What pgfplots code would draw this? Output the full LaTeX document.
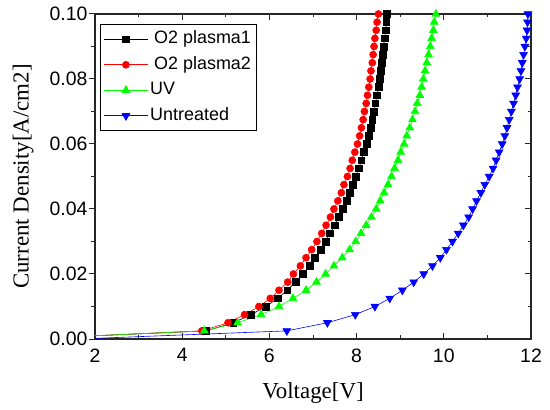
\documentclass[border=0pt]{standalone}
\usepackage{fontspec}
\setmainfont{Liberation Serif}
\newfontfamily\arial{Liberation Sans}
\usepackage{pgfplots}
\pgfplotsset{compat=1.18}

\definecolor{oRed}{HTML}{FF0000}
\definecolor{oGreen}{HTML}{00FF00}
\definecolor{oBlue}{HTML}{0000FF}

\pgfplotsset{
  frame/.style={
    at={(0,0)}, anchor=south west, scale only axis,
    width=436bp, height=325bp,
    xmin=2, xmax=12, ymin=0, ymax=0.1,
    xtick={2,4,6,8,10,12},
    ytick={0,0.02,0.04,0.06,0.08,0.1},
    minor x tick num=1, minor y tick num=1,
    major tick length=6bp, minor tick length=3.5bp,
    axis line style={line width=1.1bp, black!85},
    every tick/.style={line width=1bp, black!85},
  },
  lgimg/.style={
    legend image code/.code={
      \draw[mark repeat=2,mark phase=2] plot coordinates {(0bp,0bp) (22bp,0bp) (44bp,0bp)};
    }
  },
}

\begin{document}
\begin{tikzpicture}
\useasboundingbox (-95bp,-71bp) rectangle (455bp,339bp);

% left ticks point outwards
\begin{axis}[frame, hide x axis, ytick pos=left, tick align=outside, yticklabels={}]
\end{axis}

\begin{axis}[frame,
  tick align=inside, xtick pos=both, ytick pos=right, yticklabel pos=left,
  scaled y ticks=false,
  tick label style={font=\arial\fontsize{19.5}{20}\selectfont,
    /pgf/number format/assume math mode=true},
  y tick label style={/pgf/number format/.cd, fixed, fixed zerofill, precision=2, /tikz/.cd, xshift=-4bp},
  x tick label style={yshift=-6bp},
  xlabel={Voltage[V]},
  ylabel={Current Density[A/cm2]},
  label style={font=\fontsize{23}{24}\selectfont},
  xlabel style={at={(axis description cs:0.5,-0.166)}, anchor=center},
  ylabel style={at={(axis description cs:-0.165,0.5)}, anchor=center},
  legend style={at={(axis description cs:0.012,0.968)}, anchor=north west,
    draw=black, line width=0.8bp, fill=white,
    font=\arial\fontsize{18}{20}\selectfont,
    nodes={inner sep=2bp, text height=13bp, text depth=4bp},
    row sep=4.5bp, inner ysep=4bp, inner xsep=3bp},
  legend cell align=left,
  every axis plot/.append style={line width=0.6bp, lgimg, mark repeat=1, mark phase=2},
]
% O2 plasma1
\addplot[black, mark=square*, mark size=3.4bp] coordinates {
 (2,0.0010) (4.55,0.0025) (5.17,0.0050) (5.58,0.0075) (5.92,0.0100) (6.19,0.0125)
 (6.41,0.0150) (6.60,0.0175) (6.77,0.0200) (6.92,0.0225) (7.04,0.0250)
 (7.17,0.0275) (7.29,0.0300) (7.39,0.0325) (7.50,0.0350) (7.59,0.0375)
 (7.69,0.0400) (7.77,0.0425) (7.85,0.0450) (7.91,0.0475) (7.98,0.0500)
 (8.05,0.0525) (8.11,0.0550) (8.17,0.0575) (8.23,0.0600) (8.28,0.0625)
 (8.32,0.0650) (8.36,0.0675) (8.40,0.0700) (8.43,0.0725) (8.47,0.0750)
 (8.50,0.0775) (8.53,0.0800) (8.55,0.0825) (8.58,0.0850) (8.60,0.0875)
 (8.62,0.0900) (8.64,0.0925) (8.67,0.0950) (8.68,0.0975) (8.70,0.1000)
};
\addlegendentry{\hspace{4bp}O2 plasma1}
% O2 plasma2
\addplot[oRed, mark=*, mark size=3.5bp] coordinates {
 (2,0.0010) (4.45,0.0025) (5.05,0.0050) (5.43,0.0075) (5.76,0.0100) (6.02,0.0125)
 (6.22,0.0150) (6.42,0.0175) (6.55,0.0200) (6.71,0.0225) (6.84,0.0250)
 (6.97,0.0275) (7.09,0.0300) (7.20,0.0325) (7.30,0.0350) (7.40,0.0375)
 (7.48,0.0400) (7.57,0.0425) (7.65,0.0450) (7.71,0.0475) (7.79,0.0500)
 (7.85,0.0525) (7.90,0.0550) (7.96,0.0575) (8.02,0.0600) (8.07,0.0625)
 (8.11,0.0650) (8.15,0.0675) (8.18,0.0700) (8.22,0.0725) (8.25,0.0750)
 (8.28,0.0775) (8.31,0.0800) (8.33,0.0825) (8.36,0.0850) (8.38,0.0875)
 (8.40,0.0900) (8.42,0.0925) (8.45,0.0950) (8.47,0.0975) (8.50,0.1000)
};
\addlegendentry{\hspace{4bp}O2 plasma2}
% UV
\addplot[oGreen, mark=triangle*, mark size=4.5bp] coordinates {
 (2,0.0010) (4.51,0.0025) (5.27,0.0050) (5.81,0.0075) (6.22,0.0100) (6.54,0.0125)
 (6.84,0.0150) (7.08,0.0175) (7.29,0.0200) (7.48,0.0225) (7.67,0.0250)
 (7.84,0.0275) (7.98,0.0300) (8.10,0.0325) (8.22,0.0350) (8.34,0.0375)
 (8.45,0.0400) (8.54,0.0425) (8.63,0.0450) (8.72,0.0475) (8.80,0.0500)
 (8.87,0.0525) (8.95,0.0550) (9.01,0.0575) (9.09,0.0600) (9.15,0.0625)
 (9.22,0.0650) (9.28,0.0675) (9.34,0.0700) (9.39,0.0725) (9.45,0.0750)
 (9.49,0.0775) (9.53,0.0800) (9.57,0.0825) (9.61,0.0850) (9.65,0.0875)
 (9.69,0.0900) (9.72,0.0925) (9.76,0.0950) (9.78,0.0975) (9.82,0.1000)
};
\addlegendentry{UV}
% Untreated
\addplot[oBlue, mark=triangle*, mark size=4.5bp, mark options={rotate=180}] coordinates {
 (2,0.0002) (6.40,0.0025) (7.33,0.0050) (7.97,0.0075) (8.42,0.0100) (8.76,0.0125)
 (9.05,0.0150) (9.31,0.0175) (9.54,0.0200) (9.74,0.0225) (9.92,0.0250)
 (10.06,0.0275) (10.20,0.0300) (10.33,0.0325) (10.45,0.0350) (10.57,0.0375)
 (10.66,0.0400) (10.75,0.0425) (10.85,0.0450) (10.94,0.0475) (11.04,0.0500)
 (11.13,0.0525) (11.20,0.0550) (11.27,0.0575) (11.34,0.0600) (11.40,0.0625)
 (11.45,0.0650) (11.50,0.0675) (11.55,0.0700) (11.60,0.0725) (11.65,0.0750)
 (11.69,0.0775) (11.74,0.0800) (11.77,0.0825) (11.80,0.0850) (11.83,0.0875)
 (11.86,0.0900) (11.89,0.0925) (11.91,0.0950) (11.92,0.0975) (11.93,0.1000)
};
\addlegendentry{Untreated}
\end{axis}
\end{tikzpicture}
\end{document}
